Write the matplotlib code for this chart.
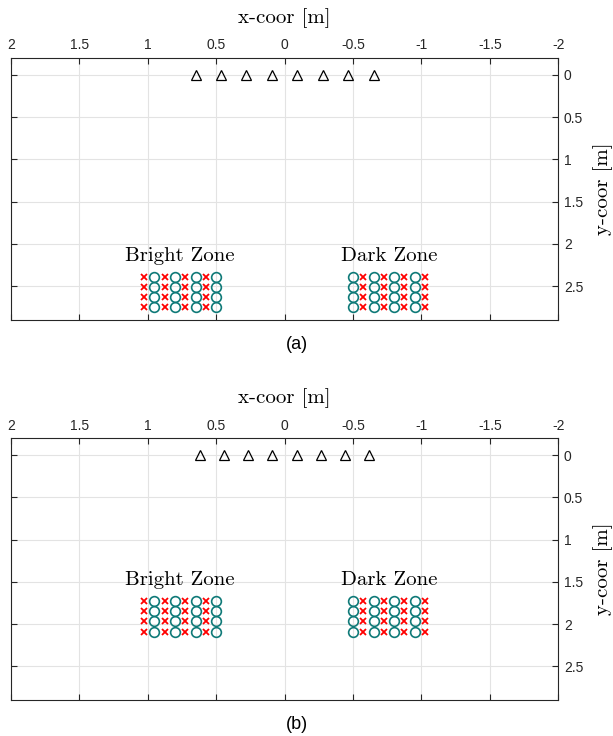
import matplotlib
matplotlib.use('Agg')
import matplotlib.pyplot as plt

# loudspeaker positions (triangles), per panel
spk_x_a = [0.65, 0.464, 0.279, 0.093, -0.093, -0.279, -0.464, -0.65]
spk_x_b = [0.62, 0.443, 0.266, 0.089, -0.089, -0.266, -0.443, -0.62]
spk_y = [0, 0, 0, 0, 0, 0, 0, 0]

# zone columns (circles = microphones, crosses = control points)
bright_circ_x = [0.5, 0.65, 0.8, 0.95]
bright_cross_x = [0.575, 0.725, 0.875, 1.025]
dark_circ_x = [-0.5, -0.65, -0.8, -0.95]
dark_cross_x = [-0.575, -0.725, -0.875, -1.025]

# zone rows per panel
rows_a = [2.39, 2.51, 2.63, 2.75]
rows_b = [1.73, 1.85, 1.97, 2.09]

xticks = [2, 1.5, 1, 0.5, 0, -0.5, -1, -1.5, -2]
xticklabels = ['2', '1.5', '1', '0.5', '0', '-0.5', '-1', '-1.5', '-2']
yticks = [0, 0.5, 1, 1.5, 2, 2.5]
yticklabels = ['0', '0.5', '1', '1.5', '2', '2.5']

serif = 'cmr10'
sans = ['Liberation Sans', 'DejaVu Sans']
teal = '#0f7a78'

fig = plt.figure(figsize=(6.13, 7.36), dpi=100)
ax_a = fig.add_axes([0.0175, 0.5652, 0.8933, 0.356])
ax_b = fig.add_axes([0.0175, 0.0489, 0.8933, 0.3556])


def draw_panel(ax, spk_x, rows, tag):
    ax.plot(spk_x, spk_y, linestyle='none', marker='^', markersize=7,
            markerfacecolor='none', markeredgecolor='black', markeredgewidth=0.9)
    for y in rows:
        ax.plot(bright_circ_x + dark_circ_x, [y] * 8, linestyle='none', marker='o',
                markersize=7, markerfacecolor='none', markeredgecolor=teal,
                markeredgewidth=1.2)
        ax.plot(bright_cross_x + dark_cross_x, [y] * 8, linestyle='none', marker='x',
                markersize=4.6, color='#ff0000', markeredgewidth=1.3)

    # zone names, centred above each block
    bx = (min(bright_circ_x) + max(bright_cross_x)) / 2
    dx = (max(dark_circ_x) + min(dark_cross_x)) / 2
    ax.text(bx, rows[0] - 0.19, 'Bright Zone', family=serif, fontsize=15,
            ha='center', va='baseline')
    ax.text(dx, rows[0] - 0.19, 'Dark Zone', family=serif, fontsize=15,
            ha='center', va='baseline')

    ax.set_xlim(2, -2)
    ax.set_ylim(2.9, -0.2)
    ax.set_xticks(xticks)
    ax.set_xticklabels(xticklabels, family=sans, fontsize=10)
    ax.set_yticks(yticks)
    ax.set_yticklabels(yticklabels, family=sans, fontsize=10)
    ax.tick_params(direction='in', length=4, width=0.8, color='#262626',
                   labelcolor='#262626',
                   top=True, bottom=True, left=True, right=True,
                   labeltop=True, labelbottom=False,
                   labelleft=False, labelright=True, pad=4)
    ax.xaxis.set_label_position('top')
    ax.yaxis.set_label_position('right')
    ax.set_xlabel('x-coor [m]', family=serif, fontsize=15, labelpad=11)
    ax.set_ylabel('y-coor [m]', family=serif, fontsize=15, labelpad=7)
    ax.grid(True, color='#e3e3e3', linewidth=0.8)
    ax.set_axisbelow(True)
    for s in ax.spines.values():
        s.set_color('#262626')
        s.set_linewidth(0.8)
    # panel tag below the axes
    ax.text(0.523, -0.093, tag, transform=ax.transAxes, family=sans,
            fontsize=13, ha='center', va='center')


draw_panel(ax_a, spk_x_a, rows_a, '(a)')
draw_panel(ax_b, spk_x_b, rows_b, '(b)')

fig.savefig('out.png', dpi=100)
